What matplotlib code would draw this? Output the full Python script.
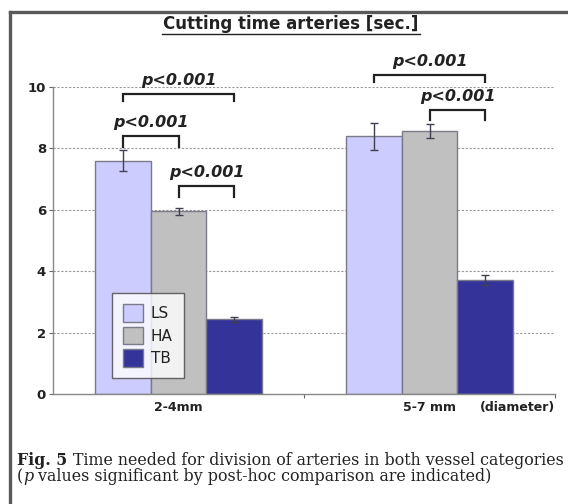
import matplotlib
matplotlib.use("Agg")
import matplotlib.pyplot as plt
from matplotlib.patches import Rectangle
from matplotlib.lines import Line2D
import numpy as np

# ---- data ----
categories = ["2-4mm", "5-7 mm"]
series = ["LS", "HA", "TB"]
means_LS = [7.6, 8.4]
means_HA = [5.95, 8.57]
means_TB = [2.43, 3.72]
err_LS = [0.35, 0.44]
err_HA = [0.12, 0.22]
err_TB = [0.08, 0.17]
yticks = [0, 2, 4, 6, 8, 10]
p_label = "p<0.001"
# significance brackets: (category index, series i, series j)
brackets = [(0, 0, 2), (0, 0, 1), (0, 1, 2), (1, 0, 2), (1, 1, 2)]
bracket_levels = [9.77, 8.40, 6.78, 10.39, 9.25]
bracket_drops = [0.23, 0.35, 0.36, 0.23, 0.32]

colors = ["#CCCCFF", "#C0C0C0", "#333399"]
edge = "#7a7a8a"

plt.rcParams["font.family"] = ["DejaVu Sans"]

fig = plt.figure(figsize=(5.68, 5.04), dpi=100)
W, H = 568, 504
ax = fig.add_axes([53 / W, 1 - 394 / H, (555 - 53) / W, (394 - 87) / H])

x = np.arange(len(categories))
bw = 0.223
means = [means_LS, means_HA, means_TB]
errs = [err_LS, err_HA, err_TB]
offsets = [-bw, 0, bw]
for k in range(3):
    ax.bar(x + offsets[k], means[k], width=bw, color=colors[k], edgecolor=edge,
           linewidth=1.0, label=series[k], zorder=2)
    ax.errorbar(x + offsets[k], means[k], yerr=errs[k], fmt="none", ecolor="#404050",
                elinewidth=1.0, capsize=3, capthick=1.0, zorder=3)

ax.set_xlim(-0.5, 1.5)
ax.set_ylim(0, 10)
ax.set_yticks(yticks)
ax.set_yticklabels([str(v) for v in yticks], fontweight="bold", fontsize=9.5, color="#222222")
ax.set_xticks([0.5, 1.5])
ax.set_xticklabels([])
ax.tick_params(axis="y", length=3, width=0.8, color="#666666", pad=2)
ax.tick_params(axis="x", length=3, width=0.8, color="#666666")
for s in ["top", "right"]:
    ax.spines[s].set_visible(False)
for s in ["left", "bottom"]:
    ax.spines[s].set_color("#888888")
    ax.spines[s].set_linewidth(1.0)
for v in yticks[1:]:
    ax.axhline(v, color="#999999", linestyle=(0, (2, 1.5)), linewidth=0.8, zorder=1)

for c, lab in enumerate(categories):
    ax.text(c, -0.45, lab, ha="center", va="center", fontsize=9, fontweight="bold",
            color="#222222")
ax.text(1.5 - 0.15, -0.45, "(diameter)", ha="center", va="center", fontsize=9,
        fontweight="bold", color="#222222")

# brackets
for n, (c, i, j) in enumerate(brackets):
    x1 = c + offsets[i]
    x2 = c + offsets[j]
    yb = bracket_levels[n]
    d = bracket_drops[n]
    if n == 0:
        ax.add_patch(Rectangle((x1 - 0.02, yb - 0.35), x2 - x1 + 0.04, 0.5,
                               facecolor="white", edgecolor="none", zorder=4,
                               clip_on=False))
    ax.plot([x1, x1, x2, x2], [yb - d, yb, yb, yb - d], color="#222222", lw=1.6,
            solid_joinstyle="miter", clip_on=False, zorder=5)
    ax.text((x1 + x2) / 2, yb + 0.45, p_label, ha="center", va="center",
            fontsize=11.5, fontweight="bold", fontstyle="italic", color="#222222",
            clip_on=False, zorder=6)

leg = ax.legend(loc="lower left", bbox_to_anchor=(0.1175, 0.052), frameon=True,
                fancybox=False, edgecolor="#444444", fontsize=11,
                handlelength=1.3, handleheight=1.35, labelspacing=0.35,
                borderpad=0.75, handletextpad=0.5, borderaxespad=0)
leg.get_frame().set_linewidth(1.0)
for t in leg.get_texts():
    t.set_color("#222222")

# title
fig.text(291 / W, 1 - 24 / H, "Cutting time arteries [sec.]", ha="center", va="center",
         fontsize=12, fontweight="bold", color="#222222")
# underline for title
fig.add_artist(Line2D([162 / W, 420 / W], [1 - 33.5 / H, 1 - 33.5 / H], color="#222222",
                      lw=1.0, transform=fig.transFigure))

# frame
fig.add_artist(Line2D([9.5 / W, 9.5 / W], [0, 1 - 11.5 / H], color="#5a5a5a", lw=2.4,
                      transform=fig.transFigure, solid_capstyle="projecting"))
fig.add_artist(Line2D([9.5 / W, 1.0], [1 - 11.5 / H, 1 - 11.5 / H], color="#5a5a5a", lw=2.4,
                      transform=fig.transFigure, solid_capstyle="projecting"))

# caption
serif = ["DejaVu Serif"]
cfs = 11.4
t1 = fig.text(17 / W, 1 - 465 / H, "Fig. 5", fontsize=cfs, fontweight="bold",
              family=serif, va="baseline", ha="left", color="#222222")
fig.canvas.draw()
r = fig.canvas.get_renderer()
bb = t1.get_window_extent(r)
fig.text(bb.x1 / W + 6 / W, 1 - 465 / H,
         "Time needed for division of arteries in both vessel categories",
         fontsize=cfs, family=serif, va="baseline", ha="left", color="#222222")
t3 = fig.text(17 / W, 1 - 481 / H, "(", fontsize=cfs, family=serif, va="baseline",
              ha="left", color="#222222")
bb = t3.get_window_extent(r)
t4 = fig.text(bb.x1 / W, 1 - 481 / H, "p", fontsize=cfs, family=serif, style="italic",
              va="baseline", ha="left", color="#222222")
bb = t4.get_window_extent(r)
fig.text(bb.x1 / W, 1 - 481 / H, " values significant by post-hoc comparison are indicated)",
         fontsize=cfs, family=serif, va="baseline", ha="left", color="#222222")

fig.savefig("out.png", dpi=100)
